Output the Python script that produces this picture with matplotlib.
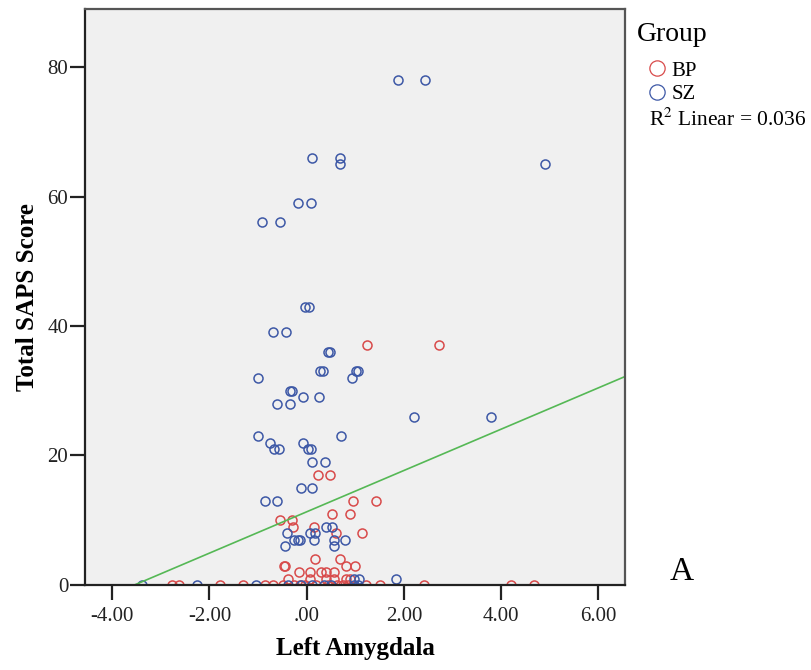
#! /usr/bin/env python3

import numpy as np
import matplotlib
matplotlib.use('Agg')
import matplotlib.pyplot as plt
from matplotlib.lines import Line2D

# SZ group (blue)
sz_x = [1.88, 2.43, 0.12, 0.69, 0.69, 4.90, -0.17, 0.09, -0.92, -0.54,
	-0.04, 0.04, -0.70, -0.43, 0.43, 0.48, 0.27, 0.33, 1.02, 1.06,
	0.93, -1.00, -0.35, -0.31, -0.08, 0.26, -0.62, -0.34, 2.20, 3.80,
	-1.00, 0.71, -0.76, -0.08, -0.68, -0.57, 0.03, 0.08, 0.11, 0.37,
	-0.11, 0.11, -0.85, -0.61, 0.39, 0.52, -0.40, 0.07, 0.18, -0.26,
	-0.18, -0.13, 0.15, 0.57, 0.78, -0.44, 0.56, 0.98, 1.07, 1.84,
	-3.39, -2.26, -1.05, -0.39, -0.12, 0.12, 0.35, 0.51, 0.98, 1.06]
sz_y = [78, 78, 66, 66, 65, 65, 59, 59, 56, 56,
	43, 43, 39, 39, 36, 36, 33, 33, 33, 33,
	32, 32, 30, 30, 29, 29, 28, 28, 26, 26,
	23, 23, 22, 22, 21, 21, 21, 21, 19, 19,
	15, 15, 13, 13, 9, 9, 8, 8, 8, 7,
	7, 7, 7, 7, 7, 6, 6, 1, 1, 1,
	0, 0, 0, 0, 0, 0, 0, 0, 0, 0]

# BP group (red)
bp_x = [1.25, 2.73, 0.23, 0.49, 0.95, 1.42, 0.52, 0.90, -0.55, -0.31,
	-0.28, 0.16, 0.61, 1.14, 0.18, 0.69, -0.47, -0.44, 0.80, 1.00,
	-0.16, 0.06, 0.30, 0.40, 0.57, -0.38, 0.06, 0.40, 0.57, 0.80, 0.90,
	-2.78, -2.63, -1.79, -1.31, -0.86, -0.69, -0.49, -0.27, -0.14, -0.04,
	0.20, 0.43, 0.62, 0.75, 0.85, 1.23, 1.50, 2.42, 4.20, 4.67]
bp_y = [37, 37, 17, 17, 13, 13, 11, 11, 10, 10,
	9, 9, 8, 8, 4, 4, 3, 3, 3, 3,
	2, 2, 2, 2, 2, 1, 1, 1, 1, 1, 1,
	0, 0, 0, 0, 0, 0, 0, 0, 0, 0,
	0, 0, 0, 0, 0, 0, 0, 0, 0, 0]

# linear fit shown in the chart
fit_intercept = 11.3
fit_slope = 3.19
r2_text = r'R$^{2}$ Linear = 0.036'

x_ticks = [-4, -2, 0, 2, 4, 6]
x_tick_labels = ['-4.00', '-2.00', '.00', '2.00', '4.00', '6.00']
y_ticks = [0, 20, 40, 60, 80]

RED = '#d84a4a'
BLUE = '#3d58a6'
GREEN = '#55b855'

plt.rcParams['font.family'] = ['Liberation Serif', 'DejaVu Serif']
plt.rcParams['mathtext.fontset'] = 'stix'

fig = plt.figure(figsize=(8.12, 6.70), dpi=100)
ax = fig.add_axes([0.1047, 0.1269, 0.665, 0.860])
ax.set_facecolor('#f0f0f0')

ax.plot(bp_x, bp_y, 'o', ms=6.5, mfc='none', mec=RED, mew=1.1)
ax.plot(sz_x, sz_y, 'o', ms=6.5, mfc='none', mec=BLUE, mew=1.1)

xmin, xmax = -4.56, 6.55
x0 = -fit_intercept / fit_slope
xl = np.array([x0, xmax])
ax.plot(xl, fit_intercept + fit_slope * xl, color=GREEN, lw=1.2)

ax.set_xlim(xmin, xmax)
ax.set_ylim(0, 89)
ax.set_xticks(x_ticks)
ax.set_xticklabels(x_tick_labels)
ax.set_yticks(y_ticks)
ax.tick_params(axis='both', labelsize=15, width=1.6, color='#222222', labelcolor='#222222')
ax.tick_params(axis='y', length=11, pad=1)
ax.tick_params(axis='x', length=11, pad=5)

for s in ['left', 'bottom']:
	ax.spines[s].set_linewidth(1.6)
	ax.spines[s].set_color('#222222')
for s in ['top', 'right']:
	ax.spines[s].set_linewidth(1.6)
	ax.spines[s].set_color('#555555')

ax.set_xlabel('Left Amygdala', fontsize=18, fontweight='bold', labelpad=8)
ax.set_ylabel('Total SAPS Score', fontsize=18, fontweight='bold', labelpad=6)

# legend
fig.text(0.7845, 0.948, 'Group', fontsize=20, va='center', ha='left')
leg_handles = [Line2D([], [], ls='none', marker='o', ms=11, mfc='none', mec=RED, mew=0.9),
	Line2D([], [], ls='none', marker='o', ms=11, mfc='none', mec=BLUE, mew=0.9)]
fig.legend(leg_handles, ['BP', 'SZ'], loc='upper left', bbox_to_anchor=(0.799, 0.909),
	frameon=False, fontsize=15, handlelength=0.8, handletextpad=0.3,
	labelspacing=0.19, borderpad=0, borderaxespad=0)
fig.text(0.799, 0.822, r2_text, fontsize=15.5, va='center', ha='left')

fig.text(0.840, 0.146, 'A', fontsize=24, va='center', ha='center')

fig.savefig('out.png', dpi=100)
